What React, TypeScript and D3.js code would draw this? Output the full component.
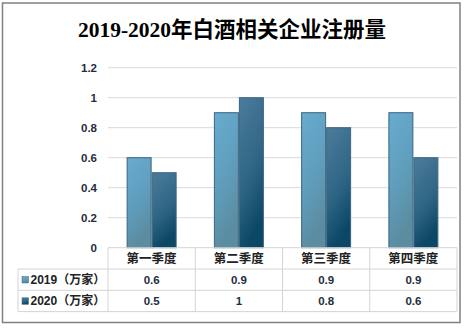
import React from "react";
import * as d3 from "d3";

const categories = ["第一季度", "第二季度", "第三季度", "第四季度"];
const seriesNames = ["2019（万家）", "2020（万家）"];
const values2019 = [0.6, 0.9, 0.9, 0.9];
const values2020 = [0.5, 1, 0.8, 0.6];
const yTicks = [0, 0.2, 0.4, 0.6, 0.8, 1, 1.2];
const title = "2019-2020年白酒相关企业注册量";

const W = 464;
const H = 328;
const plotL = 108;
const plotR = 457;
const plotT = 67.7;
const plotB = 247.7;
const rowH = 21.3;
const legendL = 18;

export default function App() {
  const series = [values2019, values2020];
  const x = d3.scaleBand<string>().domain(categories).range([plotL, plotR]).paddingInner(0).paddingOuter(0);
  const y = d3.scaleLinear().domain([0, 1.2]).range([plotB, plotT]);
  const groupW = 50;
  const xs = d3.scaleBand<number>().domain([0, 1]).range([0, groupW]);
  const fills = ["url(#g2019)", "url(#g2020)"];
  const fmt = (v: number) => String(v);
  const numFont = "'Liberation Sans', 'DejaVu Sans', sans-serif";
  const cjkFont = "'Liberation Sans', 'Noto Sans CJK SC', sans-serif";
  const rowTop = (i: number) => plotB + rowH * i;
  return (
    <svg width={W} height={H} style={{ position: "absolute", left: 0, top: 0 }}>
      <defs>
        <linearGradient id="g2019" x1="0" y1="0" x2="0.3" y2="1">
          <stop offset="0" stopColor="#68acd0" />
          <stop offset="0.6" stopColor="#5f9cba" />
          <stop offset="1" stopColor="#5b8ca0" />
        </linearGradient>
        <linearGradient id="g2020" x1="0" y1="0" x2="0.3" y2="1">
          <stop offset="0" stopColor="#4c7c9c" />
          <stop offset="0.6" stopColor="#2f6584" />
          <stop offset="1" stopColor="#0b4866" />
        </linearGradient>
      </defs>
      <rect x={0} y={0} width={W} height={H} fill="#fff" />
      <rect x={2.5} y={3} width={457.5} height={319.5} fill="#fff" stroke="#808080" strokeWidth={1.5} />
      <text x={232} y={37} textAnchor="middle" fontSize={21.5} fontWeight="bold"
        fontFamily="'Liberation Serif', 'Noto Sans CJK SC', serif" fill="#000">{title}</text>
      {yTicks.map((t) => (
        <g key={t}>
          {t > 0 && <line x1={plotL} x2={plotR} y1={y(t)} y2={y(t)} stroke="#d9d9d9" strokeWidth={1} />}
          <text x={97} y={y(t) + 4} textAnchor="end" fontSize={11.5} fontWeight="bold" fontFamily={numFont} fill="#1f2d3d">{fmt(t)}</text>
        </g>
      ))}
      {categories.map((c, ci) => (
        <g key={c} transform={`translate(${(x(c) as number) + (x.bandwidth() - groupW) / 2},0)`}>
          {series.map((s, si) => (
            <rect key={si} x={(xs(si) as number) + 0.5} y={y(s[ci])} width={xs.bandwidth() - 1}
              height={y(0) - y(s[ci])} fill={fills[si]} stroke="#3b6580" strokeWidth={1} />
          ))}
        </g>
      ))}
      {/* data table */}
      <g stroke="#d4d4d4" strokeWidth={1} fill="none">
        <line x1={plotL} x2={plotR} y1={rowTop(0)} y2={rowTop(0)} />
        <line x1={legendL} x2={plotR} y1={rowTop(1)} y2={rowTop(1)} />
        <line x1={legendL} x2={plotR} y1={rowTop(2)} y2={rowTop(2)} />
        <line x1={legendL} x2={plotR} y1={rowTop(3)} y2={rowTop(3)} />
        <line x1={legendL} x2={legendL} y1={rowTop(1)} y2={rowTop(3)} />
        {categories.map((c) => (
          <line key={c} x1={x(c) as number} x2={x(c) as number} y1={rowTop(0)} y2={rowTop(3)} />
        ))}
        <line x1={plotR} x2={plotR} y1={rowTop(0)} y2={rowTop(3)} />
      </g>
      {categories.map((c) => (
        <text key={c} x={(x(c) as number) + x.bandwidth() / 2} y={rowTop(0) + 15.5} textAnchor="middle"
          fontSize={12.5} fontWeight="bold" fontFamily={cjkFont} fill="#222">{c}</text>
      ))}
      {series.map((s, si) => (
        <g key={si}>
          <rect x={22} y={rowTop(si + 1) + 7.5} width={6.5} height={6.5} fill={fills[si]} stroke="#3b6580" strokeWidth={0.5} />
          <text x={30.5} y={rowTop(si + 1) + 15} fontSize={12} fontWeight="bold" fontFamily={cjkFont} fill="#222">{seriesNames[si]}</text>
          {categories.map((c, ci) => (
            <text key={c} x={(x(c) as number) + x.bandwidth() / 2} y={rowTop(si + 1) + 15} textAnchor="middle"
              fontSize={11.5} fontWeight="bold" fontFamily={numFont} fill="#1f2d3d">{fmt(s[ci])}</text>
          ))}
        </g>
      ))}
    </svg>
  );
}
